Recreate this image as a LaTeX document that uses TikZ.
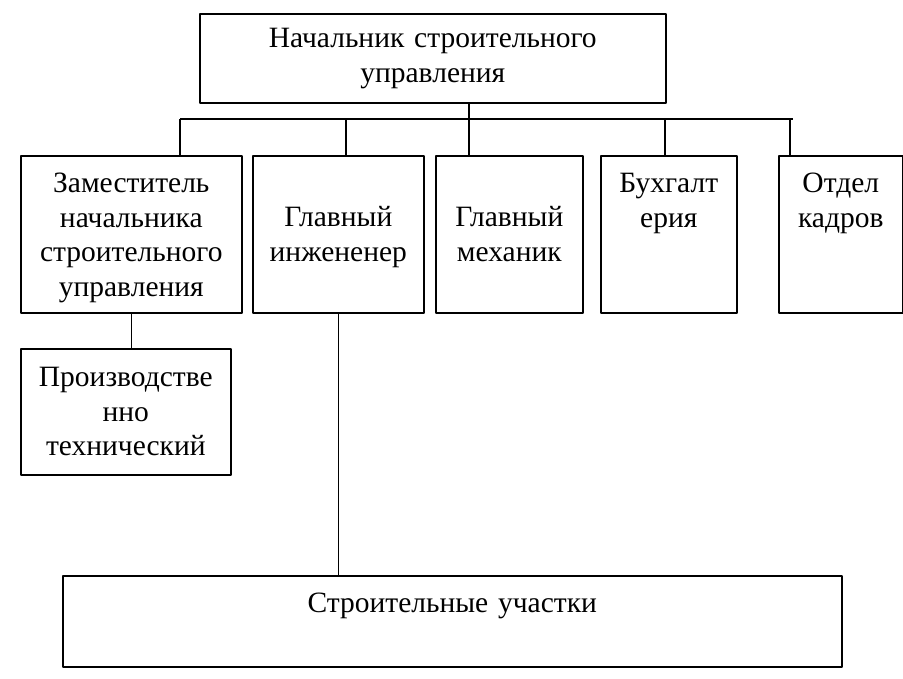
\documentclass[tikz,border=0pt]{standalone}
\usepackage{fontspec}
\setmainfont{Liberation Serif}

\begin{document}
\begin{tikzpicture}[x=1pt,y=-1pt,line join=round,line width=1.6pt,
  unit/.style={draw,rectangle,inner sep=0pt,align=center,anchor=north west,
    font=\fontsize{29.5}{34.5}\selectfont},
  row/.style={unit,text height=37pt,text depth=120pt},
  rowmid/.style={unit,text height=71pt,text depth=86pt}]

%\draw (0,0) rectangle (903,679);
\useasboundingbox (0,0) rectangle (903,679);

\node[unit,text width=466pt,minimum height=89pt] (nach) at (199,13) {Начальник строительного\\управления};

\node[row,text width=221pt] (zam) at (20,155) {Заместитель\\начальника\\строительного\\управления};
\node[rowmid,text width=171pt] (glinzh) at (252,155) {Главный\\инжененер};
\node[rowmid,text width=147pt] (glmeh) at (435,155) {Главный\\механик};
\node[row,text width=136pt] (buh) at (600,155) {Бухгалт\\ерия};
\node[row,text width=124pt] (kadr) at (778,155) {Отдел\\кадров};

\node[unit,text width=210pt,minimum height=126pt] (proizv) at (20,348) {Производстве\\нно\\технический};

\node[unit,text width=779pt,text height=37pt,text depth=54pt] (uch) at (62,575) {Строительные участки};

\coordinate (b1) at (180,119);
\coordinate (b2) at (346,119);
\coordinate (b3) at (469,119);
\coordinate (b4) at (665,119);
\coordinate (b5) at (790,119);
\coordinate (bend) at (793,119);

\draw (b1) -- (bend);
\draw (nach.south -| b3) -- (b3 |- glmeh.north);
\draw (b1) -- (b1 |- zam.north);
\draw (b2) -- (b2 |- glinzh.north);
\draw (b4) -- (b4 |- buh.north);
\draw (b5) -- (b5 |- kadr.north);

\draw (zam.south) -- (zam.south |- proizv.north);
\draw (glinzh.south) -- (glinzh.south |- uch.north);

\end{tikzpicture}
\end{document}
